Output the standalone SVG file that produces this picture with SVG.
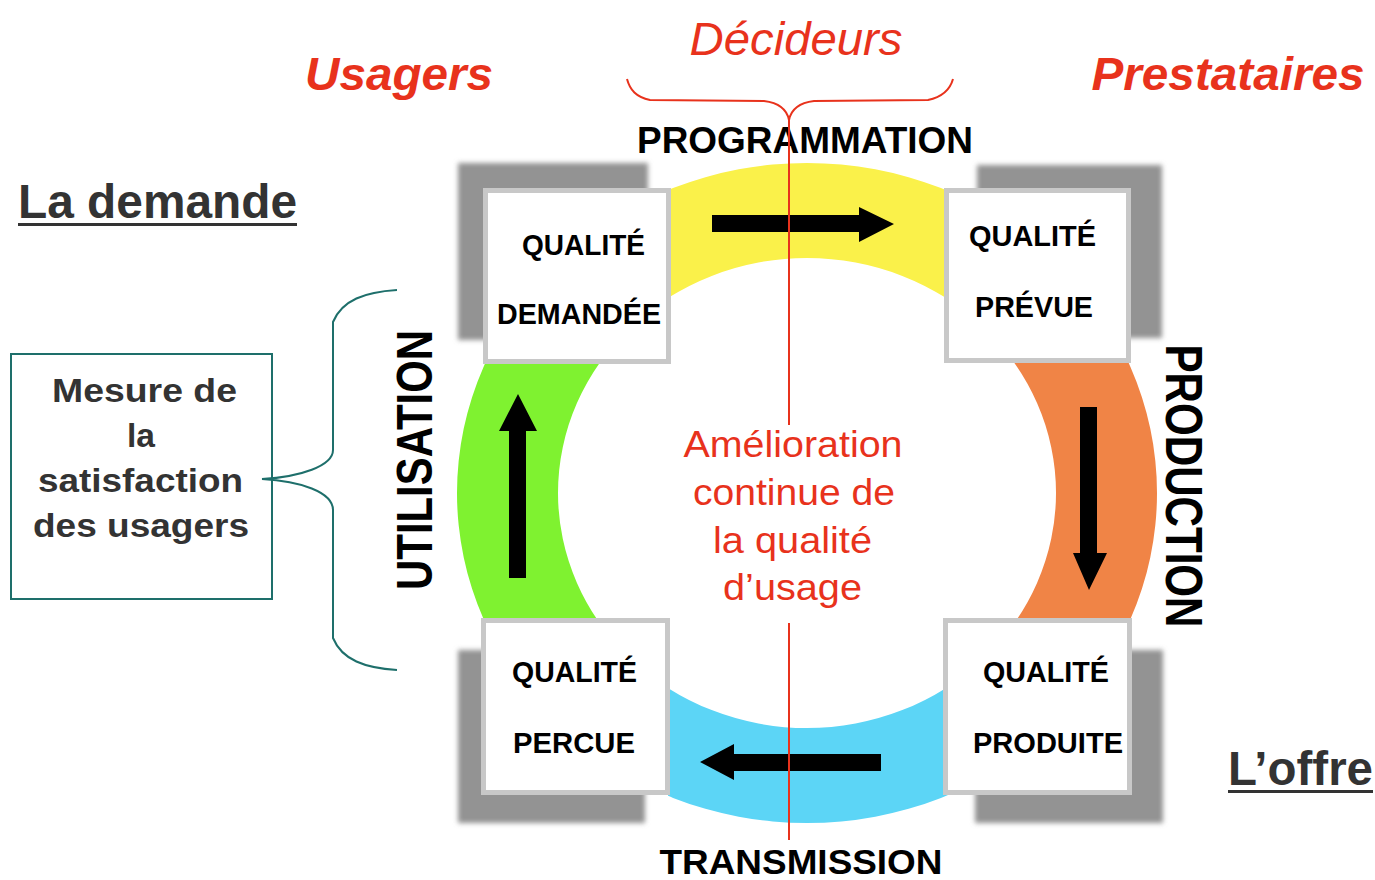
<svg xmlns="http://www.w3.org/2000/svg" width="1375" height="880" viewBox="0 0 1375 880">
<style>
.b{font-family:"Liberation Sans",Arial,sans-serif;font-weight:bold;fill:#000}
.g{font-family:"Liberation Sans",Arial,sans-serif;font-weight:bold;fill:#333}
.r{font-family:"Liberation Sans",Arial,sans-serif;fill:#e8321c}
.box{fill:#fff;stroke:#c8c8c8;stroke-width:5}
.sh{fill:#939393;filter:url(#blur)}
.arr{fill:#000}
</style>
<defs>
<filter id="blur" x="-10%" y="-10%" width="120%" height="120%"><feGaussianBlur stdDeviation="2.5"/></filter>
<path id="ring" fill-rule="evenodd" d="M457,493 a350,330 0 1,0 700,0 a350,330 0 1,0 -700,0 Z M558,493 a249,235 0 1,0 498,0 a249,235 0 1,0 -498,0 Z"/>
<clipPath id="cy"><rect x="668" y="100" width="280" height="300"/></clipPath>
<clipPath id="cb"><rect x="668" y="600" width="280" height="260"/></clipPath>
<clipPath id="cg"><rect x="440" y="362" width="200" height="258"/></clipPath>
<clipPath id="co"><rect x="990" y="362" width="200" height="258"/></clipPath>
</defs>
<rect width="1375" height="880" fill="#fff"/>

<g id="ring-bands">
<use href="#ring" fill="#faf14a" clip-path="url(#cy)"/>
<use href="#ring" fill="#5cd5f6" clip-path="url(#cb)"/>
<use href="#ring" fill="#7ff230" clip-path="url(#cg)"/>
<use href="#ring" fill="#f08446" clip-path="url(#co)"/>
</g>

<g id="node-demandee">
<rect class="sh" x="458" y="163" width="190" height="177"/>
<rect class="box" x="485.5" y="190.5" width="183" height="171"/>
<text class="b" font-size="30" x="583.5" y="255" text-anchor="middle" textLength="123" lengthAdjust="spacingAndGlyphs">QUALITÉ</text>
<text class="b" font-size="30" x="579" y="324" text-anchor="middle" textLength="164" lengthAdjust="spacingAndGlyphs">DEMANDÉE</text>
</g>
<g id="node-prevue">
<rect class="sh" x="977" y="165" width="185" height="173"/>
<rect class="box" x="946.5" y="190.5" width="182" height="170"/>
<text class="b" font-size="30" x="1032.5" y="246" text-anchor="middle" textLength="127" lengthAdjust="spacingAndGlyphs">QUALITÉ</text>
<text class="b" font-size="30" x="1034" y="317" text-anchor="middle" textLength="118" lengthAdjust="spacingAndGlyphs">PRÉVUE</text>
</g>
<g id="node-percue">
<rect class="sh" x="458" y="650" width="187" height="173"/>
<rect class="box" x="483.5" y="620.5" width="184" height="172"/>
<text class="b" font-size="30" x="574.5" y="682" text-anchor="middle" textLength="125" lengthAdjust="spacingAndGlyphs">QUALITÉ</text>
<text class="b" font-size="30" x="574" y="753" text-anchor="middle" textLength="122" lengthAdjust="spacingAndGlyphs">PERCUE</text>
</g>
<g id="node-produite">
<rect class="sh" x="975" y="650" width="188" height="173"/>
<rect class="box" x="945.5" y="620.5" width="184" height="172"/>
<text class="b" font-size="30" x="1046" y="682" text-anchor="middle" textLength="126" lengthAdjust="spacingAndGlyphs">QUALITÉ</text>
<text class="b" font-size="30" x="1048" y="753" text-anchor="middle" textLength="150" lengthAdjust="spacingAndGlyphs">PRODUITE</text>
</g>

<g id="connectors">
<path class="arr" d="M712,215 L859,215 L859,207 L894,224 L859,242 L859,232 L712,232 Z"/>
<path class="arr" d="M1080,407 L1097,407 L1097,553 L1107,553 L1089,590 L1073,553 L1080,553 Z"/>
<path class="arr" d="M881,754 L734,754 L734,744 L700,762 L734,780 L734,771 L881,771 Z"/>
<path class="arr" d="M509,578 L509,431 L499,431 L518,394 L537,431 L526,431 L526,578 Z"/>
</g>

<g id="labels">
<text class="b" font-size="36" x="805" y="153" text-anchor="middle" textLength="336" lengthAdjust="spacingAndGlyphs">PROGRAMMATION</text>
<text class="b" font-size="35" x="801" y="874" text-anchor="middle" textLength="283" lengthAdjust="spacingAndGlyphs">TRANSMISSION</text>
<text class="b" font-size="41" transform="translate(1166,486) rotate(90) scale(1,1.28)" text-anchor="middle" textLength="283" lengthAdjust="spacingAndGlyphs">PRODUCTION</text>
<text class="b" font-size="41" transform="translate(432,460) rotate(-90) scale(1,1.22)" text-anchor="middle" textLength="260" lengthAdjust="spacingAndGlyphs">UTILISATION</text>

<text class="r" font-size="47" font-style="italic" x="796" y="55" text-anchor="middle" textLength="213" lengthAdjust="spacingAndGlyphs">Décideurs</text>
<text class="r" font-size="47" font-style="italic" font-weight="bold" x="399" y="90" text-anchor="middle" textLength="188" lengthAdjust="spacingAndGlyphs">Usagers</text>
<text class="r" font-size="47" font-style="italic" font-weight="bold" x="1228" y="90" text-anchor="middle" textLength="273" lengthAdjust="spacingAndGlyphs">Prestataires</text>

<text class="g" font-size="48" x="18" y="218" textLength="279" lengthAdjust="spacingAndGlyphs">La demande</text>
<rect x="18" y="223" width="279" height="3" fill="#333"/>
<text class="g" font-size="48" x="1228" y="785" textLength="145" lengthAdjust="spacingAndGlyphs">L’offre</text>
<rect x="1228" y="790" width="145" height="3" fill="#333"/>

<text class="r" font-size="37" x="793" y="457" text-anchor="middle" textLength="219" lengthAdjust="spacingAndGlyphs">Amélioration</text>
<text class="r" font-size="37" x="794" y="505" text-anchor="middle" textLength="202" lengthAdjust="spacingAndGlyphs">continue de</text>
<text class="r" font-size="37" x="792.5" y="553" text-anchor="middle" textLength="159" lengthAdjust="spacingAndGlyphs">la qualité</text>
<text class="r" font-size="37" x="792.5" y="600" text-anchor="middle" textLength="139" lengthAdjust="spacingAndGlyphs">d’usage</text>
</g>

<g id="node-mesure">
<rect x="11" y="354" width="261" height="245" fill="#fff" stroke="#1e6f6b" stroke-width="2"/>
<text class="g" font-size="34" x="144.5" y="402" text-anchor="middle" textLength="185" lengthAdjust="spacingAndGlyphs">Mesure de</text>
<text class="g" font-size="34" x="141" y="447" text-anchor="middle" textLength="28" lengthAdjust="spacingAndGlyphs">la</text>
<text class="g" font-size="34" x="140.5" y="492" text-anchor="middle" textLength="205" lengthAdjust="spacingAndGlyphs">satisfaction</text>
<text class="g" font-size="34" x="141" y="537" text-anchor="middle" textLength="216" lengthAdjust="spacingAndGlyphs">des usagers</text>
</g>

<g id="braces" fill="none" stroke-width="2">
<path stroke="#1e6f6b" d="M397,290 C365,292 342,300 333,322 L333,450 C333,466 300,477 262,479 C300,481 333,492 333,510 L333,638 C342,660 365,668 397,670"/>
<path stroke="#e8321c" d="M627,79 C630,90 636,97 650,100 L764,101 C780,103 787,110 789,120 C791,110 798,103 814,101 L928,100 C942,97 950,90 953,79"/>
<path stroke="#e8321c" d="M789,120 L789,425 M789,623 L789,840"/>
</g>
</svg>
